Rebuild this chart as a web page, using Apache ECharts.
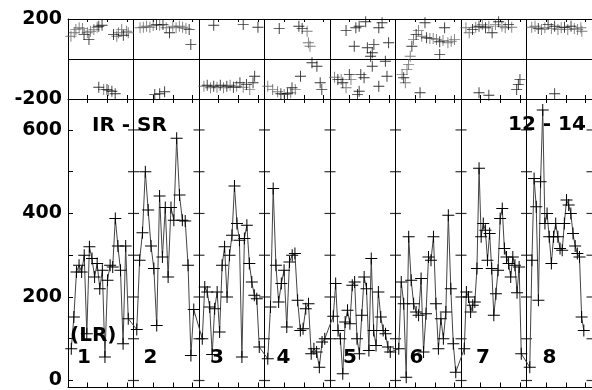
<!DOCTYPE html>
<html>
<head>
<meta charset="utf-8">
<script src="https://cdn.jsdelivr.net/npm/echarts@6/dist/echarts.min.js"></script>
<style>
  html, body { margin: 0; background: #fff; }
  #main { width: 592px; height: 390px; }
</style>
</head>
<body>
<div id="main"></div>
<script>
// sections (each 10 time units wide)
const sectionEdges = [0, 10, 20, 30, 40, 50, 60, 70, 80]
const sectionNames = ['1', '2', '3', '4', '5', '6', '7', '8']
const minorOffsets = [3, 6, 9]

// bottom panel: LR values per section
const lrSec1 = [76, 152, 260, 276, 260, 300, 112, 320, 292, 248, 280, 220, 264, 56, 240, 276, 272, 388, 322, 264, 88, 322, 148]
const lrSec2 = [122, 288, 354, 500, 408, 322, 268, 132, 442, 296, 414, 248, 414, 384, 580, 444, 384, 382, 276, 60, 170]
const lrSec3 = [100, 224, 212, 176, 62, 172, 212, 116, 276, 320, 200, 300, 348, 466, 376, 336, 56, 340, 372, 280, 236, 204, 196, 80]
const lrSec4 = [52, 176, 460, 276, 188, 232, 264, 128, 284, 300, 304, 192, 120, 124, 172, 184, 64, 76, 68, 32, 92, 100]
const lrSec5 = [154, 232, 120, 100, 16, 140, 168, 136, 228, 236, 100, 64, 156, 248, 220, 72, 292, 120, 84, 212, 152, 120, 112, 80, 68]
const lrSec6 = [76, 236, 184, 8, 344, 240, 184, 164, 156, 244, 68, 160, 296, 288, 344, 184, 76, 148, 100, 164, 396, 220, 88, 20]
const lrSec7 = [76, 212, 200, 164, 180, 188, 268, 508, 344, 376, 360, 288, 352, 268, 156, 208, 264, 388, 412, 316, 296, 280, 248, 296, 276, 210, 272, 64]
const lrSec8 = [32, 288, 484, 416, 192, 476, 648, 376, 400, 344, 280, 344, 376, 344, 316, 312, 376, 432, 420, 400, 352, 322, 304, 296, 152, 120]
const lrSections = [lrSec1, lrSec2, lrSec3, lrSec4, lrSec5, lrSec6, lrSec7, lrSec8]
const lrSpan = [8.7, 8.7, 8.7, 8.7, 8.7, 8.7, 8.7, 8.25]

// top panel: phase (deg), [time, phase]
const phaseGrey = [
  [0.45, 114], [0.95, 131], [1.2, 147], [1.7, 156], [2.2, 152], [2.95, 131], [3.45, 139], [3.95, 147], [4.45, 159],
  [7.45, 114], [7.7, 131], [8.2, 147], [8.95, 139], [9.2, 131], [5.45, -152], [6.2, -157],
  [11.0, 156], [11.5, 159], [12.0, 164], [12.5, 159], [13.0, 167], [14.0, 169], [15.0, 156], [16.0, 164],
  [16.5, 156], [17.0, 164], [17.5, 159], [18.0, 152],
  [20.75, -136], [21.75, -144], [22.75, -141], [23.75, -144], [24.75, -131], [25.75, -136], [26.75, -141], [27.75, -152],
  [36.5, 139], [36.7, 81], [36.95, 64],
  [30.5, -136], [31.25, -152], [32.0, -164], [33.0, -177], [34.0, -169], [34.7, -152],
  [40.7, -91], [41.7, -102], [42.45, -144], [43.2, -102],
  [51.0, -77], [51.5, -119], [51.75, -52], [52.0, -27], [52.25, 14], [52.75, 97], [53.5, 142], [54.0, 114],
  [55.25, 103], [55.75, 103], [56.25, 97], [57.25, 92], [58.0, 81], [58.5, 89], [59.0, 97],
  [60.75, 156], [61.25, 131], [62.25, 159], [63.25, 172], [64.25, 164], [65.25, 172], [66.25, 164], [66.75, 156], [67.75, 159],
  [70.8, 159], [71.3, 164], [72.3, 147], [72.8, 156], [73.8, 152], [74.8, 147], [75.3, 156], [76.3, 147],
  [77.3, 152], [77.8, 147], [78.3, 156], [78.45, 139]
]
const phaseBlack = [
  [2.45, 122], [3.2, 97], [4.7, 164], [5.2, 169], [6.95, 122], [8.45, 119],
  [4.7, -141], [5.95, -152], [6.7, -161], [7.2, -174],
  [13.5, 172], [14.5, 172], [15.5, 131], [18.5, 147], [18.75, 72], [13.25, -177], [14.0, -174], [14.75, -164],
  [22.25, 169], [26.75, 172], [29.0, 159],
  [21.25, -131], [22.25, -136], [23.25, -131], [24.25, -136], [25.25, -141], [26.25, -119], [27.25, -128], [28.25, -119], [28.5, -86],
  [32.25, 152], [35.25, 164], [35.75, 152],
  [32.5, -174], [33.5, -174], [34.2, -144], [35.5, -86], [37.25, -19], [38.0, -36], [38.5, -119], [38.75, -152],
  [42.45, 142], [43.95, 156], [44.45, 164], [45.45, 186], [47.45, 156], [47.95, 181], [43.7, 64], [45.7, 56],
  [46.7, 72], [48.95, 81], [46.2, 14], [46.45, 31], [48.45, -11], [46.45, -36], [41.2, -102], [42.95, -77],
  [44.7, -77], [45.2, -94], [44.45, -161], [47.45, -136], [48.7, -86], [44.2, -177], [41.95, -119],
  [51.25, -94], [52.5, 64], [53.15, 122], [54.5, 181], [54.75, 106], [56.75, 86], [57.5, 156], [56.75, 22], [53.75, -169],
  [61.75, 147], [62.75, 164], [63.75, 156], [64.75, 131], [65.75, 186], [67.25, 172],
  [62.75, -169], [64.25, -181], [68.5, -152], [68.75, -128], [69.0, -102],
  [71.8, 152], [73.3, 172], [74.3, 164], [75.8, 159], [76.8, 164], [74.3, -174]
]

// axis ticks / labels
const phaseLabels = [-200, 200]
const lrLabels = [0, 200, 400, 600]
const lrTicks = [0, 100, 200, 300, 400, 500, 600]

const FONT = 'DejaVu Sans'
const plus = 'path://M0,5.5H12V6.5H0Z M5.5,0H6.5V12H5.5Z'
const gridLeft = 68
const secPx = 66.5

// build series data
let lrData = []
lrSections.forEach((vals, s) => {
  const n = vals.length
  vals.forEach((v, i) => {
    lrData.push([sectionEdges[s] + 0.5 + i * lrSpan[s] / (n - 1), v])
  })
})
let minorTicks = []
sectionEdges.slice(0, -1).forEach(e => {
  minorOffsets.forEach(o => minorTicks.push(e + o))
})
let crossTicks = []
sectionEdges.slice(1).forEach(e => {
  lrTicks.forEach(v => crossTicks.push([e, v]))
})

const chart = echarts.init(document.getElementById('main'), null, { renderer: 'canvas' })

const lineBlack = { color: '#000', width: 1 }
const labelStyle = {
  fontFamily: FONT, fontWeight: 'bold', fontSize: 19, color: '#000', margin: 6
}
// section frame axis: line + section split lines, no ticks
function frameAx(gridIndex, position, showLine, split) {
  return {
    type: 'value', gridIndex, position, min: 0, max: 80, interval: 10,
    axisLine: { show: showLine, onZero: false, lineStyle: lineBlack },
    axisTick: { show: false },
    axisLabel: { show: false },
    splitLine: { show: split, lineStyle: lineBlack }
  }
}
// minor tick axis: only the small ticks
function tickAx(gridIndex, position, tickLen) {
  return {
    type: 'value', gridIndex, position, min: 0, max: 80,
    axisLine: { show: false, onZero: false },
    axisTick: { show: true, inside: true, length: tickLen, customValues: minorTicks, lineStyle: lineBlack },
    axisLabel: { show: false },
    splitLine: { show: false }
  }
}

chart.setOption({
  animation: false,
  backgroundColor: '#fff',
  grid: [
    { left: gridLeft, top: 19, width: secPx * 8, height: 80 },
    { left: gridLeft, top: 99, width: secPx * 8, height: 289 }
  ],
  xAxis: [
    frameAx(0, 'bottom', true, true),  // 0
    frameAx(0, 'top', true, false),    // 1
    tickAx(0, 'bottom', 4),            // 2
    tickAx(0, 'top', 3),               // 3
    frameAx(1, 'bottom', true, true),  // 4
    tickAx(1, 'bottom', 5),            // 5
    tickAx(1, 'top', 4)                // 6
  ],
  yAxis: [
    {
      type: 'value', gridIndex: 0, min: -200, max: 200, interval: 200,
      axisLine: { show: true, lineStyle: lineBlack },
      axisTick: { show: false },
      axisLabel: Object.assign({ customValues: phaseLabels }, labelStyle),
      splitLine: { show: true, lineStyle: lineBlack }
    },
    {
      type: 'value', gridIndex: 1, min: -16.7, max: 674.1,
      axisLine: { show: true, lineStyle: lineBlack },
      axisTick: { show: true, inside: true, length: 5, customValues: lrTicks, lineStyle: lineBlack },
      axisLabel: Object.assign({ customValues: lrLabels }, labelStyle),
      splitLine: { show: false }
    }
  ],
  series: [
    {
      type: 'scatter', xAxisIndex: 0, yAxisIndex: 0, data: phaseGrey,
      symbol: plus, symbolSize: 11, itemStyle: { color: '#5a5a5a' }, silent: true
    },
    {
      type: 'scatter', xAxisIndex: 0, yAxisIndex: 0, data: phaseBlack,
      symbol: plus, symbolSize: 11, itemStyle: { color: '#000' }, silent: true
    },
    {
      type: 'scatter', xAxisIndex: 4, yAxisIndex: 1, data: crossTicks,
      symbol: 'rect', symbolSize: [11, 1.2], itemStyle: { color: '#000' }, silent: true
    },
    {
      type: 'line', xAxisIndex: 4, yAxisIndex: 1, data: lrData,
      symbol: plus, symbolSize: 12, showAllSymbol: true,
      lineStyle: { color: '#444', width: 1 },
      itemStyle: { color: '#000' }, silent: true
    }
  ],
  graphic: [
    { type: 'text', x: 92, y: 126, z: 100, style: { text: 'IR - SR', font: 'bold 20px ' + FONT, fill: '#000', verticalAlign: 'middle' } },
    { type: 'text', x: 508, y: 125, z: 100, style: { text: '12 - 14', font: 'bold 20px ' + FONT, fill: '#000', verticalAlign: 'middle' } },
    { type: 'text', x: 70, y: 336, z: 100, style: { text: '(LR)', font: 'bold 20px ' + FONT, fill: '#000', verticalAlign: 'middle' } }
  ].concat(sectionNames.map((name, i) => ({
    type: 'text', x: gridLeft + i * secPx + 16, y: 358, z: 100,
    style: { text: name, font: 'bold 20px ' + FONT, fill: '#000', align: 'center', verticalAlign: 'middle' }
  })))
})
</script>
</body>
</html>
